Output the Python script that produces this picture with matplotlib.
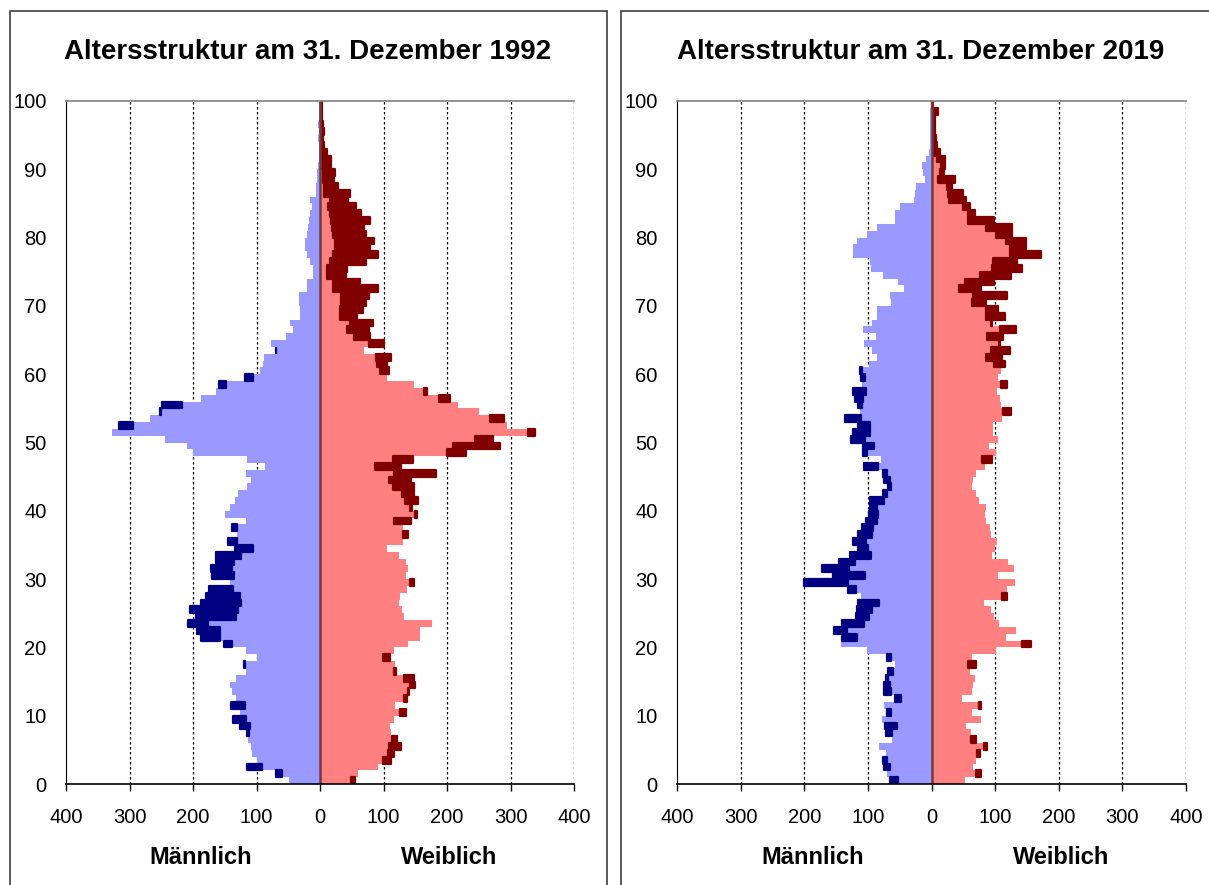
import numpy as np
import matplotlib
matplotlib.use("Agg")
import matplotlib.pyplot as plt
from matplotlib.patches import Rectangle

plt.rcParams['font.family'] = ['Liberation Sans', 'DejaVu Sans']

# Alter 0..99, Werte je Altersjahr
ages = list(range(100))

male_1992 = [49, 70, 115, 99, 107, 108, 114, 115, 126, 137,
             126, 140, 133, 138, 142, 132, 116, 120, 99, 116,
             151, 188, 194, 208, 196, 205, 188, 180, 175, 141,
             170, 171, 164, 164, 134, 145, 130, 138, 116, 150,
             141, 134, 129, 115, 109, 116, 86, 115, 200, 209,
             244, 328, 316, 267, 252, 249, 188, 164, 159, 118,
             95, 89, 88, 70, 77, 54, 43, 48, 32, 32,
             33, 33, 20, 20, 11, 11, 15, 20, 24, 24,
             21, 19, 17, 16, 12, 16, 6, 7, 5, 5,
             3, 2, 2, 2, 3, 1, 3, 1, 1, 1]
female_1992 = [55, 60, 92, 112, 117, 127, 122, 112, 110, 116,
               135, 118, 137, 140, 150, 148, 120, 118, 110, 116,
               139, 158, 158, 176, 133, 129, 124, 126, 137, 148,
               135, 138, 135, 125, 105, 130, 139, 130, 143, 152,
               145, 155, 148, 148, 143, 183, 127, 146, 230, 284,
               272, 338, 295, 289, 251, 218, 204, 168, 148, 105,
               109, 106, 112, 69, 101, 79, 77, 84, 59, 68,
               72, 77, 91, 63, 41, 43, 72, 92, 78, 85,
               72, 69, 79, 65, 57, 44, 47, 29, 22, 24,
               18, 17, 11, 7, 4, 7, 4, 3, 3, 3]

male_2019 = [66, 70, 75, 77, 72, 82, 62, 72, 73, 78,
             70, 74, 58, 74, 74, 72, 68, 57, 70, 102,
             143, 140, 154, 140, 119, 117, 116, 111, 131, 200,
             155, 172, 146, 128, 116, 124, 116, 109, 103, 99,
             97, 96, 77, 68, 75, 77, 106, 79, 108, 107,
             127, 123, 116, 136, 113, 115, 120, 124, 110, 111,
             112, 99, 85, 93, 106, 87, 108, 93, 85, 86,
             63, 66, 43, 53, 77, 95, 96, 123, 123, 117,
             101, 85, 58, 57, 49, 27, 26, 24, 11, 13,
             15, 8, 4, 2, 2, 2, 2, 2, 3, 1]
female_2019 = [52, 78, 66, 70, 77, 87, 70, 62, 55, 78,
               63, 78, 48, 63, 66, 69, 60, 70, 63, 102,
               157, 117, 133, 106, 98, 93, 82, 119, 118, 132,
               105, 129, 120, 95, 100, 103, 93, 92, 85, 84,
               86, 74, 70, 63, 65, 70, 84, 95, 102, 90,
               104, 97, 96, 111, 125, 110, 108, 103, 119, 105,
               109, 115, 111, 124, 107, 112, 133, 95, 116, 105,
               85, 118, 78, 98, 125, 142, 135, 172, 148, 148,
               127, 127, 99, 69, 60, 55, 49, 33, 37, 19,
               22, 22, 14, 9, 7, 6, 6, 6, 10, 3]

years = ['1992', '2019']
x_ticks = [-400, -300, -200, -100, 0, 100, 200, 300, 400]
y_ticks = list(range(0, 101, 10))

light_blue = '#9999ff'
light_red = '#ff8080'
dark_blue = '#000080'
dark_red = '#800000'

W, H = 1209, 885
fig = plt.figure(figsize=(W / 100, H / 100), dpi=100)

# Rahmen der beiden Diagramme
for x0, x1 in [(10, 607), (621, 1212)]:
    fig.patches.append(Rectangle((x0 / W, -0.02), (x1 - x0) / W, (H - 11) / H + 0.02,
                                 transform=fig.transFigure, fill=False,
                                 ec='#404040', lw=1.2, zorder=0))


def pyramid(ax, male, female, year):
    m = np.array(male, dtype=float)
    f = np.array(female, dtype=float)
    a = np.array(ages)
    low = np.minimum(m, f)

    for g in [-300, -200, -100, 100, 200, 300, 400]:
        ax.axvline(g, color='black', lw=0.9, ls=(0, (2, 2)), zorder=0)

    ax.barh(a, -m, height=1, align='edge', color=light_blue, lw=0, zorder=2)
    ax.barh(a, f, height=1, align='edge', color=light_red, lw=0, zorder=2)

    # Maenner- bzw. Frauenueberschuss dunkel
    mm = m > f
    ax.barh(a[mm], -(m[mm] - low[mm]), left=-low[mm], height=1, align='edge',
            color=dark_blue, ec=dark_blue, lw=1.6, joinstyle='round', zorder=3)
    ff = f > m
    ax.barh(a[ff], f[ff] - low[ff], left=low[ff], height=1, align='edge',
            color=dark_red, ec=dark_red, lw=1.6, joinstyle='round', zorder=3)

    ax.axvline(0, color='#6e3c3c', lw=1.8, zorder=4)

    ax.set_xlim(-400, 400)
    ax.set_ylim(0, 100)
    ax.set_xticks(x_ticks)
    ax.set_xticklabels([str(abs(v)) for v in x_ticks])
    ax.set_yticks(y_ticks)
    ax.tick_params(axis='y', length=0, pad=14, labelsize=14.5)
    ax.tick_params(axis='x', length=5, width=1, pad=12, labelsize=14.5)
    ax.spines['top'].set_color('#808080')
    ax.spines['top'].set_linewidth(1.2)
    ax.spines['right'].set_visible(False)
    ax.spines['left'].set_color('black')
    ax.spines['bottom'].set_color('black')
    ax.spines['bottom'].set_linewidth(1.2)
    ax.spines['bottom'].set_zorder(5)
    ax.spines['top'].set_zorder(5)


bottom = (H - 784) / H
height = (784 - 101) / H
ax1 = fig.add_axes([66 / W, bottom, (574 - 66) / W, height])
ax2 = fig.add_axes([677 / W, bottom, (1186 - 677) / W, height])

pyramid(ax1, male_1992, female_1992, years[0])
pyramid(ax2, male_2019, female_2019, years[1])

for cx, year in [(308, years[0]), (921, years[1])]:
    fig.text(cx / W, (H - 52) / H, 'Altersstruktur am 31. Dezember ' + year,
             ha='center', va='center', fontsize=20, fontweight='bold')

for mx, wx in [(201, 449), (813, 1061)]:
    fig.text(mx / W, (H - 858) / H, 'Männlich', ha='center', va='center',
             fontsize=17, fontweight='bold')
    fig.text(wx / W, (H - 857) / H, 'Weiblich', ha='center', va='center',
             fontsize=17, fontweight='bold')

fig.savefig('out.png', dpi=100)
